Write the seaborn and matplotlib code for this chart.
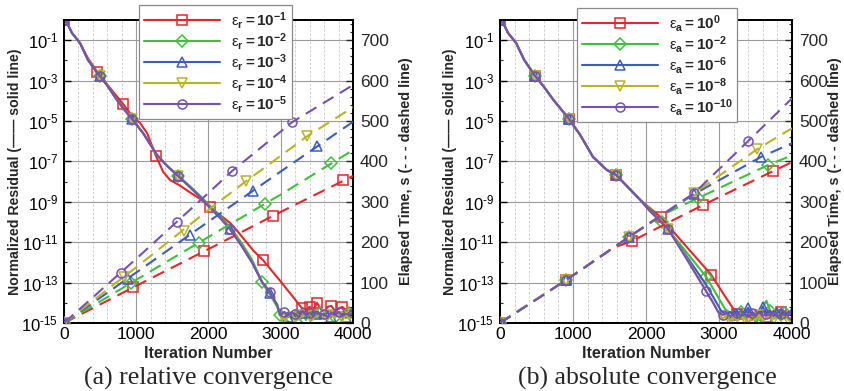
import numpy as np
import pandas as pd
import matplotlib
matplotlib.use("Agg")
import matplotlib.pyplot as plt
import seaborn as sns
from matplotlib.lines import Line2D
from matplotlib.ticker import FixedLocator, MultipleLocator, FuncFormatter, NullFormatter

# ---------------- data ----------------
COLORS = ["#e5262b", "#3fbf3f", "#3b5cc0", "#b8b422", "#7452b4"]
MARKERS = ["s", "D", "^", "v", "o"]
LABELS_L = [r"$\mathrm{ε}_{\mathbf{r}}\mathbf{{=}10^{-1}}$", r"$\mathrm{ε}_{\mathbf{r}}\mathbf{{=}10^{-2}}$",
            r"$\mathrm{ε}_{\mathbf{r}}\mathbf{{=}10^{-3}}$", r"$\mathrm{ε}_{\mathbf{r}}\mathbf{{=}10^{-4}}$",
            r"$\mathrm{ε}_{\mathbf{r}}\mathbf{{=}10^{-5}}$"]
LABELS_R = [r"$\mathrm{ε}_{\mathbf{a}}\mathbf{{=}10^{0}}$", r"$\mathrm{ε}_{\mathbf{a}}\mathbf{{=}10^{-2}}$",
            r"$\mathrm{ε}_{\mathbf{a}}\mathbf{{=}10^{-6}}$", r"$\mathrm{ε}_{\mathbf{a}}\mathbf{{=}10^{-8}}$",
            r"$\mathrm{ε}_{\mathbf{a}}\mathbf{{=}10^{-10}}$"]

# ---- (a) relative: residual (log10) ----
RED_IT_L = [0, 50, 110, 221, 332, 457, 600, 817, 941, 1052, 1150, 1273, 1370, 1467, 1605, 1750, 1882, 2020,
            2300, 2400, 2616, 2757, 3000, 3290]
RED_RES_L = [0, -0.2, -0.64, -1.14, -1.9, -2.55, -3.2, -4.16, -4.75, -5.1, -5.6, -6.73, -7.5, -7.92, -8.2, -8.55,
             -8.85, -9.26, -10.05, -10.45, -11.4, -11.9, -12.95, -14.25]
IT_L = [0, 50, 110, 221, 332, 457, 600, 733, 860, 941, 1095, 1287, 1420, 1578, 1750, 1882, 2020, 2160, 2297,
        2450, 2600, 2740, 2851, 2950, 2990]
GRN_RES_L = [0, -0.2, -0.64, -1.14, -1.98, -2.6, -3.25, -3.96, -4.55, -4.9, -5.6, -6.68, -7.2, -7.7, -8.25,
             -8.7, -9.2, -9.7, -10.25, -11.0, -11.85, -12.97, -13.6, -14.2, -14.6]
BLU_RES_L = [0, -0.2, -0.64, -1.14, -1.98, -2.6, -3.25, -3.96, -4.55, -4.9, -5.6, -6.68, -7.2, -7.72, -8.28,
             -8.74, -9.25, -9.77, -10.33, -11.1, -11.95, -12.95, -13.5, -14.1, -14.6]
YEL_RES_L = [0, -0.2, -0.64, -1.14, -1.98, -2.6, -3.25, -3.96, -4.55, -4.9, -5.6, -6.68, -7.2, -7.72, -8.3,
             -8.76, -9.28, -9.8, -10.35, -11.12, -11.98, -12.97, -13.47, -14.1, -14.6]
PUR_RES_L = [0, -0.2, -0.64, -1.14, -1.98, -2.6, -3.25, -3.96, -4.55, -4.9, -5.6, -6.68, -7.2, -7.72, -8.3,
             -8.76, -9.3, -9.8, -10.35, -11.15, -12.0, -12.97, -13.47, -14.1, -14.6]
RED_FLOOR_IT_L = [3350, 3400, 3450, 3500, 3550, 3600, 3650, 3700, 3750, 3800, 3850, 3900, 3950, 4000]
RED_FLOOR_L = [-14.35, -14.2, -14.4, -14.0, -14.3, -14.45, -14.2, -14.15, -14.4, -14.3, -14.2, -14.35, -14.25, -14.3]
FLOOR_IT_L = [3050, 3100, 3150, 3200, 3250, 3300, 3350, 3400, 3450, 3500, 3550, 3600, 3650, 3700, 3750, 3800,
              3850, 3900, 3950, 4000]
GRN_FLOOR_L = [-14.75, -14.5, -14.8, -14.45, -14.7, -14.55, -14.85, -14.4, -14.65, -14.75, -14.5, -14.6, -14.8,
               -14.45, -14.7, -14.55, -14.6, -14.75, -14.5, -14.4]
BLU_FLOOR_L = [-14.5, -14.7, -14.45, -14.65, -14.8, -14.5, -14.6, -14.7, -14.45, -14.55, -14.75, -14.6, -14.5,
               -14.7, -14.45, -14.65, -14.55, -14.7, -14.5, -14.35]
YEL_FLOOR_L = [-14.8, -14.65, -14.55, -14.9, -14.6, -14.7, -14.5, -14.85, -14.6, -14.7, -14.55, -14.8, -14.65,
               -14.6, -14.75, -14.5, -14.7, -14.6, -14.8, -14.55]
PUR_FLOOR_L = [-14.45, -14.6, -14.5, -14.55, -14.7, -14.4, -14.6, -14.5, -14.65, -14.45, -14.6, -14.55, -14.7,
               -14.5, -14.6, -14.45, -14.65, -14.55, -14.6, -14.5]
# residual markers (a)
RED_MK_IT_L = [0, 457, 817, 1273, 2020, 2757, 3290, 3400, 3500, 3700, 3850]
RED_MK_RES_L = [0, -2.55, -4.16, -6.73, -9.26, -11.9, -14.25, -14.2, -14.0, -14.15, -14.2]
GRN_MK_IT_L = [0, 498, 941, 1578, 2740, 2990, 3150, 3350, 3550, 3750, 3950]
GRN_MK_RES_L = [0, -2.77, -4.9, -7.7, -12.97, -14.6, -14.8, -14.85, -14.5, -14.7, -14.5]
BLU_MK_IT_L = [0, 498, 941, 1578, 2297, 2851, 3100, 3300, 3500, 3700, 3900]
BLU_MK_RES_L = [0, -2.77, -4.9, -7.72, -10.33, -13.5, -14.7, -14.5, -14.55, -14.7, -14.7]
YEL_MK_IT_L = [0, 498, 941, 1578, 3050, 3250, 3450, 3650, 3850, 4000]
YEL_MK_RES_L = [0, -2.77, -4.9, -7.72, -14.8, -14.6, -14.6, -14.6, -14.7, -14.55]
PUR_MK_IT_L = [0, 498, 941, 1578, 2297, 2851, 3050, 3200, 3400, 3600, 3800, 4000]
PUR_MK_RES_L = [0, -2.77, -4.9, -7.72, -10.35, -13.47, -14.45, -14.55, -14.5, -14.55, -14.45, -14.5]

# ---- (a) relative: elapsed time (s) ----
RED_T_IT_L = [0, 1000, 2000, 3000, 4000]
RED_T_L = [0, 92, 183, 275, 364]
GRN_T_IT_L = [0, 1000, 2000, 3000, 4000]
GRN_T_L = [0, 107, 213, 318, 428]
BLU_T_IT_L = [0, 1000, 2000, 3000, 4000]
BLU_T_L = [0, 125, 251, 375, 498]
YEL_T_IT_L = [0, 1000, 2000, 2519, 3000, 3363, 4000]
YEL_T_L = [0, 138, 280, 351, 414, 462, 534]
PUR_T_IT_L = [0, 1000, 2000, 2325, 3000, 3156, 4000]
PUR_T_L = [0, 159, 322, 376, 474, 497, 589]
RED_TMK_IT_L = [0, 955, 1938, 2893, 3862]
RED_TMK_L = [0, 88, 178, 266, 355]
GRN_TMK_IT_L = [0, 927, 1868, 2782, 3695]
GRN_TMK_L = [0, 99, 198, 294, 396]
BLU_TMK_IT_L = [0, 886, 1744, 2616, 3502]
BLU_TMK_L = [0, 109, 218, 326, 438]
YEL_TMK_IT_L = [0, 830, 1661, 2519, 3363]
YEL_TMK_L = [0, 115, 228, 351, 462]
PUR_TMK_IT_L = [0, 789, 1564, 2325, 3156]
PUR_TMK_L = [0, 124, 250, 376, 497]

# ---- (b) absolute: residual (log10) ----
RED_IT_R = [0, 50, 110, 221, 332, 480, 600, 733, 945, 1100, 1274, 1466, 1590, 1800, 1918, 2050, 2200, 2500,
            2891, 3050, 3178]
RED_RES_R = [0, -0.2, -0.64, -1.14, -1.98, -2.77, -3.3, -3.96, -4.9, -5.7, -6.78, -7.43, -7.67, -8.45, -8.9,
             -9.3, -9.75, -11.0, -12.6, -13.5, -14.2]
GRN_IT_R = [0, 50, 110, 221, 332, 480, 600, 733, 945, 1100, 1274, 1466, 1590, 1800, 1918, 2050, 2219, 2500,
            2822, 3000, 3082, 3150]
GRN_RES_R = [0, -0.2, -0.64, -1.14, -1.98, -2.77, -3.3, -3.96, -4.9, -5.7, -6.78, -7.43, -7.67, -8.45, -8.9,
             -9.35, -10.0, -11.25, -12.7, -13.8, -14.3, -14.5]
BLU_IT_R = [0, 50, 110, 221, 332, 480, 600, 733, 945, 1100, 1274, 1466, 1590, 1800, 1918, 2050, 2302, 2500,
            2822, 2950, 3030, 3100, 3150]
BLU_RES_R = [0, -0.2, -0.64, -1.14, -1.98, -2.77, -3.3, -3.96, -4.9, -5.7, -6.78, -7.43, -7.67, -8.45, -8.9,
             -9.4, -10.35, -11.4, -13.1, -13.9, -14.4, -14.6, -14.45]
YEL_IT_R = [0, 50, 110, 221, 332, 480, 600, 733, 945, 1100, 1274, 1466, 1590, 1800, 1918, 2050, 2302, 2500,
            2822, 2920, 2990, 3050, 3100, 3150]
YEL_RES_R = [0, -0.2, -0.64, -1.14, -1.98, -2.77, -3.3, -3.96, -4.9, -5.7, -6.78, -7.43, -7.67, -8.45, -8.9,
             -9.45, -10.35, -11.45, -13.4, -14.0, -14.45, -14.8, -14.6, -14.9]
PUR_IT_R = [0, 50, 110, 221, 332, 480, 600, 733, 945, 1100, 1274, 1466, 1590, 1800, 1918, 2050, 2302, 2500,
            2822, 2920, 2987, 3050, 3100, 3150]
PUR_RES_R = [0, -0.2, -0.64, -1.14, -1.98, -2.77, -3.3, -3.96, -4.9, -5.7, -6.78, -7.43, -7.67, -8.45, -8.9,
             -9.45, -10.35, -11.5, -13.42, -14.0, -14.45, -14.6, -14.5, -14.65]
FLOOR_IT_R = [3200, 3250, 3300, 3350, 3400, 3450, 3500, 3550, 3600, 3650, 3700, 3750, 3800, 3850, 3900, 3950, 4000]
RED_FLOOR_R = [-14.3, -14.55, -14.4, -14.7, -14.5, -14.85, -14.45, -14.6, -14.3, -14.7, -14.5, -14.4, -14.65,
               -14.45, -14.6, -14.5, -14.55]
GRN_FLOOR_R = [-14.5, -14.7, -14.45, -14.8, -14.3, -14.6, -14.95, -14.5, -14.2, -13.9, -14.4, -14.6, -14.35,
               -14.7, -14.5, -14.6, -14.45]
BLU_FLOOR_R = [-14.6, -14.4, -14.7, -14.5, -14.25, -14.6, -14.45, -14.7, -14.2, -14.55, -14.4, -14.65, -14.5,
               -14.3, -14.6, -14.45, -14.5]
YEL_FLOOR_R = [-14.7, -14.9, -14.6, -14.8, -15.0, -14.7, -14.85, -14.6, -14.9, -14.75, -14.6, -14.8, -14.7,
               -14.9, -14.6, -14.85, -14.7]
PUR_FLOOR_R = [-14.6, -14.5, -14.65, -14.55, -14.7, -14.5, -14.6, -14.45, -14.65, -14.55, -14.6, -14.5, -14.7,
               -14.55, -14.6, -14.5, -14.6]
RED_MK_IT_R = [0, 480, 945, 1590, 2200, 2891, 3250, 3450, 3650, 3850]
RED_MK_RES_R = [0, -2.77, -4.9, -7.67, -9.75, -12.6, -14.55, -14.85, -14.7, -14.45]
GRN_MK_IT_R = [0, 480, 945, 1590, 2219, 2822, 3300, 3500, 3700, 3900]
GRN_MK_RES_R = [0, -2.77, -4.9, -7.67, -10.0, -12.7, -14.45, -14.95, -14.4, -14.5]
BLU_MK_IT_R = [0, 480, 945, 1590, 2302, 3200, 3400, 3600, 3800, 4000]
BLU_MK_RES_R = [0, -2.77, -4.9, -7.67, -10.35, -14.6, -14.25, -14.2, -14.5, -14.5]
YEL_MK_IT_R = [0, 480, 945, 1590, 2302, 3150, 3350, 3550, 3750, 3950]
YEL_MK_RES_R = [0, -2.77, -4.9, -7.67, -10.35, -14.9, -14.8, -14.6, -14.8, -14.85]
PUR_MK_IT_R = [0, 480, 945, 1590, 2302, 2822, 3050, 3250, 3450, 3650, 3850, 4000]
PUR_MK_RES_R = [0, -2.77, -4.9, -7.67, -10.35, -13.42, -14.6, -14.5, -14.5, -14.55, -14.55, -14.6]

# ---- (b) absolute: elapsed time (s) ----
RED_T_IT_R = [0, 904, 1550, 1808, 2781, 3740, 4000]
RED_T_R = [0, 106, 186, 203, 292, 376, 398]
GRN_T_IT_R = [0, 904, 1767, 2200, 2712, 3672, 4000]
GRN_T_R = [0, 106, 213, 266, 309, 391, 415]
BLU_T_IT_R = [0, 904, 1767, 2658, 3575, 4000]
BLU_T_R = [0, 106, 213, 319, 411, 445]
YEL_T_IT_R = [0, 904, 1767, 2658, 3521, 4000]
YEL_T_R = [0, 106, 213, 321, 430, 482]
PUR_T_IT_R = [0, 904, 1767, 2658, 3398, 4000]
PUR_T_R = [0, 106, 213, 321, 450, 556]
RED_TMK_IT_R = [0, 904, 1808, 2781, 3740]
RED_TMK_R = [0, 106, 203, 292, 376]
GRN_TMK_IT_R = [0, 904, 1767, 2712, 3672]
GRN_TMK_R = [0, 106, 213, 309, 391]
BLU_TMK_IT_R = [0, 904, 1767, 2658, 3575]
BLU_TMK_R = [0, 106, 213, 319, 411]
YEL_TMK_IT_R = [0, 904, 1767, 2658, 3521]
YEL_TMK_R = [0, 106, 213, 321, 430]
PUR_TMK_IT_R = [0, 904, 1767, 2658, 3398]
PUR_TMK_R = [0, 106, 213, 321, 450]

X_TICKS = [0, 1000, 2000, 3000, 4000]
T_TICKS = [0, 100, 200, 300, 400, 500, 600, 700]
RES_TICK_EXP = [-15, -13, -11, -9, -7, -5, -3, -1]

# ---------------- style ----------------
sns.set_theme(style="white")
plt.rcParams["font.family"] = ["Liberation Sans", "DejaVu Sans"]
plt.rcParams["mathtext.fontset"] = "custom"
plt.rcParams["mathtext.rm"] = "Liberation Sans"
plt.rcParams["mathtext.it"] = "Liberation Sans:italic"
plt.rcParams["mathtext.bf"] = "Liberation Sans:bold"

fig = plt.figure(figsize=(8.45, 3.91), dpi=100)
W, H = 845.0, 391.0
axL = fig.add_axes([64 / W, 68 / H, 289 / W, 303 / H])
axR = fig.add_axes([500 / W, 68 / H, 292 / W, 303 / H])

DASH = (0, (6, 3.6))


def pow_fmt(v, pos):
    e = int(round(np.log10(v)))
    return r"$10^{\text{-}%d}$" % (-e) if e < 0 else r"$10^{%d}$" % e


def draw_panel(ax, res_lines, floors, res_marks, t_lines, t_marks, labels, legend_bbox, llabel_x, rlabel_x):
    ax2 = ax.twinx()
    for i in range(5):
        c = COLORS[i]
        it, ex = res_lines[i]
        fit, fex = floors[i]
        xs = list(it) + list(fit)
        ys = [10.0 ** e for e in list(ex) + list(fex)]
        sns.lineplot(x=xs, y=ys, ax=ax, color=c, lw=1.5, sort=False, estimator=None, zorder=3 + i)
        mit, mex = res_marks[i]
        ax.plot(mit, [10.0 ** e for e in mex], ls="none", marker=MARKERS[i], ms=6.5, mfc="none",
                mec=c, mew=1.1, zorder=3 + i)
        tit, tv = t_lines[i]
        sns.lineplot(x=tit, y=tv, ax=ax2, color=c, lw=1.5, linestyle=DASH, sort=False, estimator=None,
                     zorder=3 + i)
        kit, kv = t_marks[i]
        ax2.plot(kit, kv, ls="none", marker=MARKERS[i], ms=6.5, mfc="none", mec=c, mew=1.1, zorder=3 + i)

    ax.set_yscale("log")
    ax.set_ylim(1e-15, 1.0)
    ax.set_xlim(0, 4000)
    ax.yaxis.set_major_locator(FixedLocator([10.0 ** e for e in RES_TICK_EXP]))
    ax.yaxis.set_major_formatter(FuncFormatter(pow_fmt))
    ax.yaxis.set_minor_locator(FixedLocator([10.0 ** e for e in range(-14, 1, 2)]))
    ax.yaxis.set_minor_formatter(NullFormatter())
    ax.xaxis.set_major_locator(FixedLocator(X_TICKS))
    ax.xaxis.set_minor_locator(MultipleLocator(200))
    ax.grid(True, which="major", color="#9a9a9a", lw=0.8, ls="-")
    ax.grid(True, which="minor", axis="x", color="#c8c8c8", lw=0.6, ls=(0, (3, 2)))
    ax.set_axisbelow(True)
    ax.tick_params(axis="y", which="major", direction="in", length=5, width=1, labelsize=12,
                   colors="black", pad=4, right=False)
    ax.tick_params(axis="x", which="major", direction="in", length=5, width=1, labelsize=12.5,
                   colors="black", pad=3, top=False)
    ax.tick_params(axis="both", which="minor", direction="in", length=2.5, width=0.8, right=False, top=False)
    ax2.set_ylim(0, 750)
    ax2.yaxis.set_major_locator(FixedLocator(T_TICKS))
    ax2.yaxis.set_minor_locator(MultipleLocator(20))
    ax2.tick_params(axis="y", which="major", direction="in", length=5, width=1, labelsize=12.5, pad=5)
    ax2.tick_params(axis="y", which="minor", direction="in", length=2.5, width=0.8)
    ax2.set_xlim(0, 4000)
    for a in (ax, ax2):
        for s in a.spines.values():
            s.set_color("black")
            s.set_linewidth(1.3)
    ax.set_xlabel("Iteration Number", fontsize=11.5, fontweight="bold", labelpad=3)
    ax.set_ylabel("Normalized Residual (\u2014\u2014 solid line)", fontsize=10.2, fontweight="bold",
                  va="center", rotation=90)
    ax.yaxis.set_label_coords(llabel_x, 0.5)
    ax2.set_ylabel("Elapsed Time, s (- - - dashed line)", fontsize=10.4, fontweight="bold",
                   va="center", rotation=90)
    ax2.yaxis.set_label_coords(rlabel_x, 0.5)

    handles = [Line2D([0], [0], color=COLORS[i], lw=1.5, marker=MARKERS[i], ms=6.5, mfc="none",
                      mec=COLORS[i], mew=1.1) for i in range(5)]
    leg = fig.legend(handles, labels, loc="upper left", bbox_to_anchor=legend_bbox,
                     bbox_transform=fig.transFigure, frameon=True, fancybox=False, framealpha=1,
                     edgecolor="#8a8a8a", fontsize=11, handlelength=5.0, handletextpad=0.7,
                     labelspacing=0.0, borderpad=0.3, borderaxespad=0, numpoints=1)
    leg.get_frame().set_linewidth(0.9)
    return ax2


draw_panel(axL,
           [(RED_IT_L, RED_RES_L), (IT_L, GRN_RES_L), (IT_L, BLU_RES_L), (IT_L, YEL_RES_L), (IT_L, PUR_RES_L)],
           [(RED_FLOOR_IT_L, RED_FLOOR_L), (FLOOR_IT_L, GRN_FLOOR_L), (FLOOR_IT_L, BLU_FLOOR_L),
            (FLOOR_IT_L, YEL_FLOOR_L), (FLOOR_IT_L, PUR_FLOOR_L)],
           [(RED_MK_IT_L, RED_MK_RES_L), (GRN_MK_IT_L, GRN_MK_RES_L), (BLU_MK_IT_L, BLU_MK_RES_L),
            (YEL_MK_IT_L, YEL_MK_RES_L), (PUR_MK_IT_L, PUR_MK_RES_L)],
           [(RED_T_IT_L, RED_T_L), (GRN_T_IT_L, GRN_T_L), (BLU_T_IT_L, BLU_T_L), (YEL_T_IT_L, YEL_T_L),
            (PUR_T_IT_L, PUR_T_L)],
           [(RED_TMK_IT_L, RED_TMK_L), (GRN_TMK_IT_L, GRN_TMK_L), (BLU_TMK_IT_L, BLU_TMK_L),
            (YEL_TMK_IT_L, YEL_TMK_L), (PUR_TMK_IT_L, PUR_TMK_L)],
           LABELS_L, (139 / W, 1 - 5 / H), (15 - 64) / 289, (406 - 64) / 289)

draw_panel(axR,
           [(RED_IT_R, RED_RES_R), (GRN_IT_R, GRN_RES_R), (BLU_IT_R, BLU_RES_R), (YEL_IT_R, YEL_RES_R),
            (PUR_IT_R, PUR_RES_R)],
           [(FLOOR_IT_R, RED_FLOOR_R), (FLOOR_IT_R, GRN_FLOOR_R), (FLOOR_IT_R, BLU_FLOOR_R),
            (FLOOR_IT_R, YEL_FLOOR_R), (FLOOR_IT_R, PUR_FLOOR_R)],
           [(RED_MK_IT_R, RED_MK_RES_R), (GRN_MK_IT_R, GRN_MK_RES_R), (BLU_MK_IT_R, BLU_MK_RES_R),
            (YEL_MK_IT_R, YEL_MK_RES_R), (PUR_MK_IT_R, PUR_MK_RES_R)],
           [(RED_T_IT_R, RED_T_L if False else RED_T_R), (GRN_T_IT_R, GRN_T_R), (BLU_T_IT_R, BLU_T_R),
            (YEL_T_IT_R, YEL_T_R), (PUR_T_IT_R, PUR_T_R)],
           [(RED_TMK_IT_R, RED_TMK_R), (GRN_TMK_IT_R, GRN_TMK_R), (BLU_TMK_IT_R, BLU_TMK_R),
            (YEL_TMK_IT_R, YEL_TMK_R), (PUR_TMK_IT_R, PUR_TMK_R)],
           LABELS_R, (577 / W, 1 - 8 / H), (450 - 500) / 292, (835 - 500) / 292)

fig.text(209 / W, 1 - 378 / H, "(a) relative convergence", ha="center", va="center",
         family=["Liberation Serif", "DejaVu Serif"], fontsize=18.5)
fig.text(647 / W, 1 - 378 / H, "(b) absolute convergence", ha="center", va="center",
         family=["Liberation Serif", "DejaVu Serif"], fontsize=18.5)

fig.savefig("out.png", dpi=100)
